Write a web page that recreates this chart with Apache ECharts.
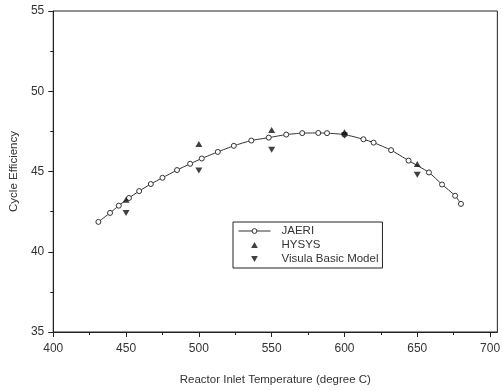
<!DOCTYPE html>
<html>
<head>
<meta charset="utf-8">
<script src="https://cdn.jsdelivr.net/npm/echarts@6/dist/echarts.min.js"></script>
<style>
  html, body { margin: 0; padding: 0; background: #fff; }
  #chart { width: 503px; height: 391px; }
</style>
</head>
<body>
<div id="chart"></div>
<script>
// JAERI curve
const jaeriX = [431, 439, 445, 452, 459, 467, 475, 485, 494, 502, 513, 524, 536, 548, 560, 571, 582, 588, 600, 613, 620, 632, 644, 658, 667, 676, 680];
const jaeriY = [41.86, 42.42, 42.87, 43.35, 43.78, 44.22, 44.61, 45.09, 45.48, 45.81, 46.22, 46.6, 46.93, 47.11, 47.3, 47.39, 47.4, 47.39, 47.3, 47.01, 46.8, 46.33, 45.68, 44.94, 44.19, 43.49, 42.98];

// HYSYS and VB model points
const hysysX = [450, 500, 550, 600, 650];
const hysysY = [43.24, 46.72, 47.59, 47.45, 45.46];
const vbX = [450, 500, 550, 600, 650];
const vbY = [42.42, 45.06, 46.35, 47.25, 44.8];

const xTicks = [400, 450, 500, 550, 600, 650, 700];

const zip = (xs, ys) => xs.map((x, i) => [x, ys[i]]);

const font = 'Liberation Sans, Arial, sans-serif';
const ink = '#222';
const upTriangle = 'path://M5,0 L10,9 L0,9 Z';
const downTriangle = 'path://M0,0 L10,0 L5,9 Z';

const chart = echarts.init(document.getElementById('chart'));

chart.setOption({
  animation: false,
  backgroundColor: '#fff',
  textStyle: { fontFamily: font },
  grid: {
    left: 47,
    right: 1,
    top: 11,
    bottom: 58,
    show: true,
    borderColor: ink,
    borderWidth: 1,
  },
  legend: {
    orient: 'vertical',
    left: 233,
    top: 222,
    padding: [3, 4, 3, 5],
    itemGap: 2,
    itemWidth: 32,
    itemHeight: 6,
    borderColor: ink,
    borderWidth: 1,
    borderRadius: 0,
    lineStyle: { width: 1 },
    itemStyle: { borderWidth: 1 },
    textStyle: { fontSize: 11.5, color: '#333', fontFamily: font, padding: [0, 0, 0, 6] },
    data: ['JAERI', 'HYSYS', 'Visula Basic Model'],
  },
  xAxis: {
    type: 'value',
    min: 400,
    max: 705,
    interval: 50,
    name: 'Reactor Inlet Temperature (degree C)',
    nameLocation: 'middle',
    nameGap: 42,
    nameTextStyle: { fontSize: 11.5, color: '#333', fontFamily: font },
    axisLine: { show: true, onZero: false, lineStyle: { color: ink, width: 1 } },
    axisTick: { show: true, length: 5, lineStyle: { color: ink }, customValues: xTicks },
    minorTick: { show: true, splitNumber: 2, length: 3, lineStyle: { color: ink } },
    axisLabel: {
      fontSize: 12,
      color: '#333',
      margin: 11,
      customValues: xTicks,
      formatter: v => (v % 50 === 0 ? String(v) : ''),
    },
    splitLine: { show: false },
  },
  yAxis: {
    type: 'value',
    min: 35,
    max: 55,
    interval: 5,
    name: 'Cycle Efficiency',
    nameLocation: 'middle',
    nameGap: 29,
    nameTextStyle: { fontSize: 11.5, color: '#333', fontFamily: font },
    axisLine: { show: true, onZero: false, lineStyle: { color: ink, width: 1 } },
    axisTick: { show: true, length: 5, lineStyle: { color: ink } },
    minorTick: { show: true, splitNumber: 2, length: 3, lineStyle: { color: ink } },
    axisLabel: { fontSize: 12, color: '#333', margin: 9 },
    splitLine: { show: false },
  },
  series: [
    {
      name: 'JAERI',
      type: 'line',
      data: zip(jaeriX, jaeriY),
      smooth: 0.2,
      symbol: 'circle',
      symbolSize: 5,
      showAllSymbol: true,
      lineStyle: { color: '#333', width: 1 },
      itemStyle: { color: '#fff', borderColor: '#333', borderWidth: 1 },
      silent: true,
      z: 2,
    },
    {
      name: 'HYSYS',
      type: 'scatter',
      data: zip(hysysX, hysysY),
      symbol: upTriangle,
      symbolSize: [7, 6],
      itemStyle: { color: '#111' },
      silent: true,
      z: 3,
    },
    {
      name: 'Visula Basic Model',
      type: 'scatter',
      data: zip(vbX, vbY),
      symbol: downTriangle,
      symbolSize: [7, 6],
      itemStyle: { color: '#111' },
      silent: true,
      z: 3,
    },
  ],
});
</script>
</body>
</html>
